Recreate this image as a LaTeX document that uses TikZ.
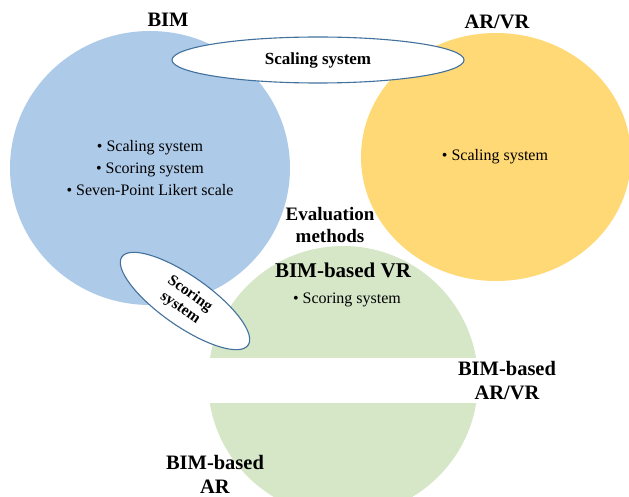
\documentclass[tikz,border=0pt]{standalone}
\usepackage{fontspec}
\setmainfont{Liberation Serif}
\usetikzlibrary{positioning,shapes.geometric}

\definecolor{bimblue}{RGB}{174,202,233}
\definecolor{argold}{RGB}{255,217,118}
\definecolor{vrgreen}{RGB}{214,231,200}
\definecolor{rimblue}{RGB}{65,113,156}

\tikzset{
  blob/.style={ellipse, inner sep=0pt, draw=none},
  tag/.style={ellipse, draw=rimblue, line width=1.1pt, fill=white, inner sep=0pt,
    align=center, font=\bfseries\fontsize{17}{19}\selectfont},
  head/.style={align=center, font=\bfseries\fontsize{20.5}{24}\selectfont},
  item/.style={align=center, font=\fontsize{16}{22}\selectfont}
}

\begin{document}
\begin{tikzpicture}[x=1pt, y=-1pt]
  \useasboundingbox (0,0) rectangle (629,497);
  % the three sets
  \node[blob, fill=bimblue, minimum width=280pt, minimum height=274pt] (bim) at (150,168) {};
  \node[blob, fill=argold, minimum width=270pt, minimum height=248pt] (arvr) at (496,157) {};
  \node[blob, fill=vrgreen, minimum width=270pt, minimum height=270pt] (vr) at (343,381) {};
  \node[fill=white, inner sep=0pt, minimum width=290pt, minimum height=45pt] (band) at (345,380.5) {};
  % shared methods
  \node[tag, minimum width=292pt, minimum height=46pt] (scaling) at (318,60) {Scaling system};
  \node[tag, rotate=-35, minimum width=154pt, minimum height=50pt,
    font=\bfseries\fontsize{15.5}{17}\selectfont] (scoring) at (185,301) {Scoring\\system};
  % titles
  \node[head] (bimlbl) at (168,20) {BIM};
  \node[head] (arvrlbl) at (497,22) {AR/VR};
  \node[head, font=\bfseries\fontsize{19}{21.5}\selectfont] (evallbl) at (330,225) {Evaluation\\methods};
  \node[head, font=\bfseries\fontsize{21}{24}\selectfont] (vrlbl) at (343,270) {BIM-based VR};
  \node[head] (mixlbl) at (507,381) {BIM-based\\AR/VR};
  \node[head] (arlbl) at (215,474) {BIM-based\\AR};
  % lists
  \node[item] (bimlist) at (150,168) {• Scaling system\\• Scoring system\\• Seven-Point Likert scale};
  \node[item] (arvrlist) at (495,157) {• Scaling system};
  \node[item] (vrlist) at (347,300) {• Scoring system};
\end{tikzpicture}
\end{document}
